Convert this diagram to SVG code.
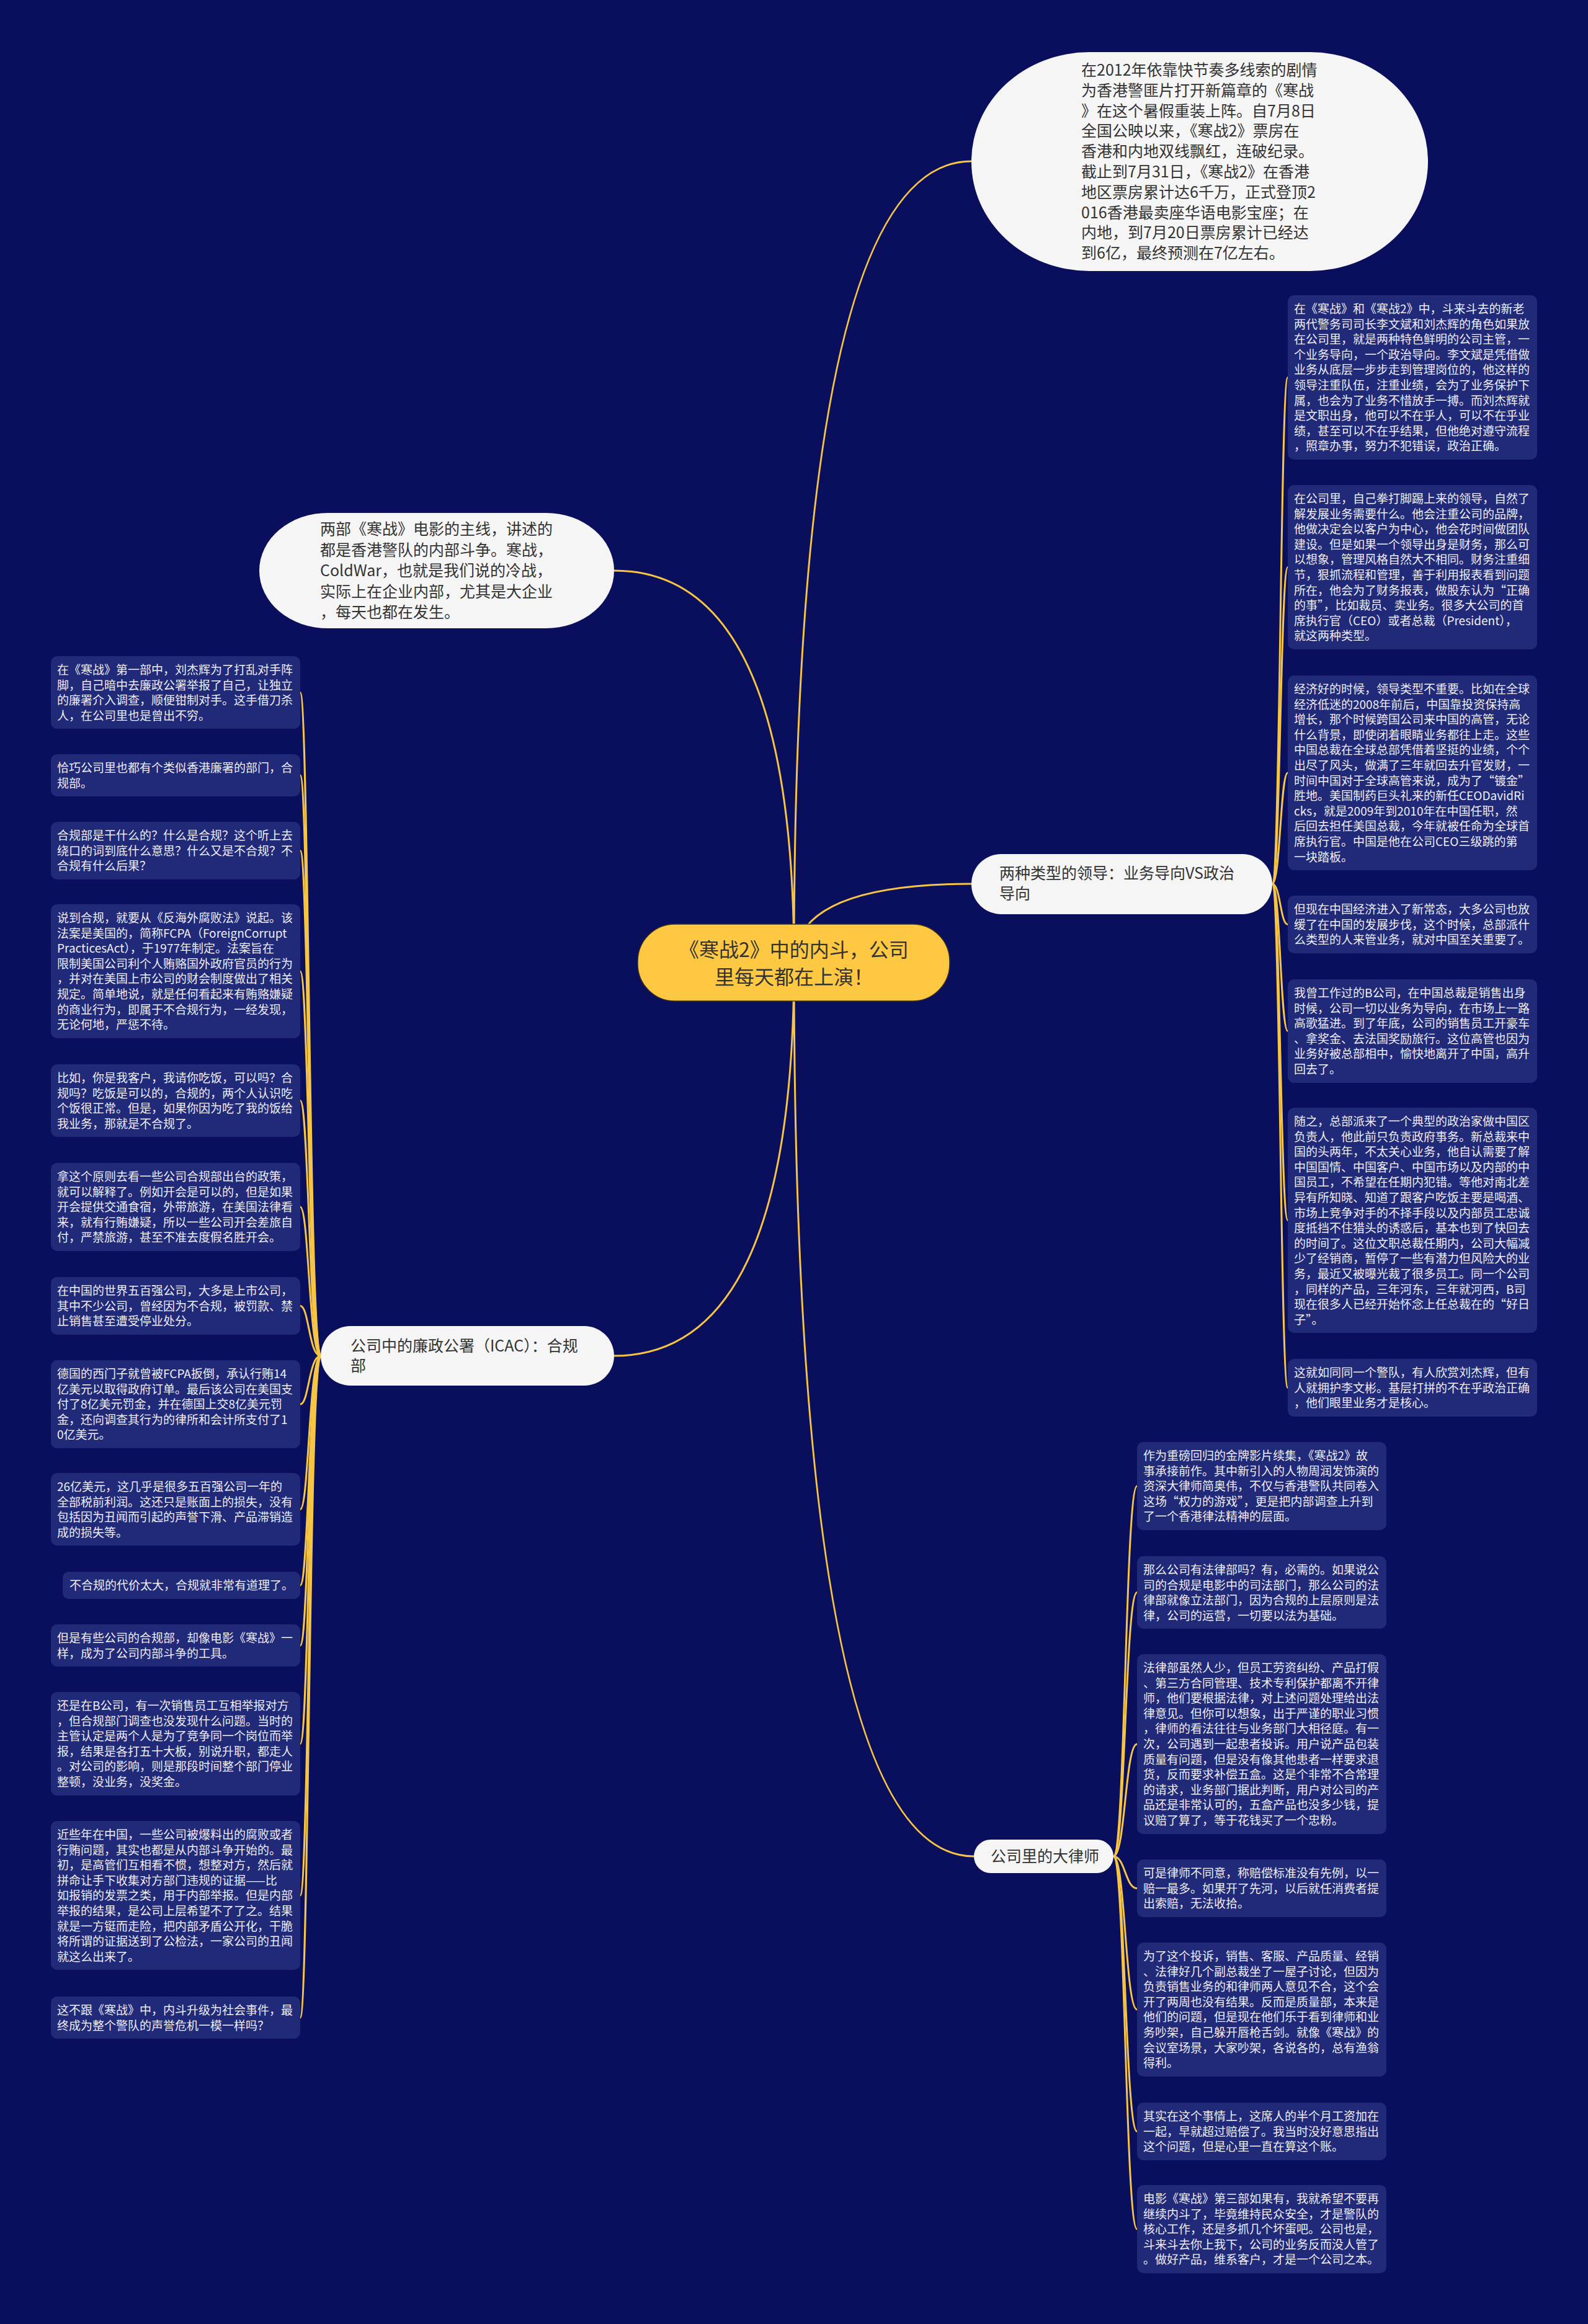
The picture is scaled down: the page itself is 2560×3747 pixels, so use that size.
<svg xmlns="http://www.w3.org/2000/svg" width="2560" height="3747" viewBox="0 0 2560 3747">
<style>
.bg{fill:#090F5C}
.leaf{fill:#212979}
.lt{font-family:"Noto Sans CJK SC","Noto Sans",sans-serif;font-size:19px;fill:#EEEEF4}
.bub{fill:#F5F5F5}
.bt{font-family:"Noto Sans CJK SC","Noto Sans",sans-serif;font-size:25px;fill:#333333}
.ct{font-family:"Noto Sans CJK SC","Noto Sans",sans-serif;font-size:32px;fill:#333333}
.edge{fill:none;stroke:#F6C544;stroke-width:3}
</style>
<rect class="bg" x="0" y="0" width="2560" height="3747"/>
<g id="connectors">
<path class="edge" d="M1280,1552 Q1280,260 1566,260"/>
<path class="edge" d="M1280,1552 Q1280,920 990,920"/>
<path class="edge" d="M1280,1552 Q1280,1425 1566,1425"/>
<path class="edge" d="M1280,1552 Q1280,2186 990,2186"/>
<path class="edge" d="M1280,1552 Q1280,2993 1570,2993"/>
<path class="edge" d="M2051,1425 C2064,1425 2064,608.5 2076,608.5"/>
<path class="edge" d="M2051,1425 C2064,1425 2064,914.5 2076,914.5"/>
<path class="edge" d="M2051,1425 C2064,1425 2064,1246 2076,1246"/>
<path class="edge" d="M2051,1425 C2064,1425 2064,1490.5 2076,1490.5"/>
<path class="edge" d="M2051,1425 C2064,1425 2064,1662.5 2076,1662.5"/>
<path class="edge" d="M2051,1425 C2064,1425 2064,1967.5 2076,1967.5"/>
<path class="edge" d="M2051,1425 C2064,1425 2064,2237.5 2076,2237.5"/>
<path class="edge" d="M517,2186 C498,2186 498,1116.5 484,1116.5"/>
<path class="edge" d="M517,2186 C498,2186 498,1250 484,1250"/>
<path class="edge" d="M517,2186 C498,2186 498,1371.5 484,1371.5"/>
<path class="edge" d="M517,2186 C498,2186 498,1566 484,1566"/>
<path class="edge" d="M517,2186 C498,2186 498,1774.5 484,1774.5"/>
<path class="edge" d="M517,2186 C498,2186 498,1946 484,1946"/>
<path class="edge" d="M517,2186 C498,2186 498,2105.5 484,2105.5"/>
<path class="edge" d="M517,2186 C498,2186 498,2264 484,2264"/>
<path class="edge" d="M517,2186 C498,2186 498,2433.5 484,2433.5"/>
<path class="edge" d="M517,2186 C498,2186 498,2556 484,2556"/>
<path class="edge" d="M517,2186 C498,2186 498,2653 484,2653"/>
<path class="edge" d="M517,2186 C498,2186 498,2811.5 484,2811.5"/>
<path class="edge" d="M517,2186 C498,2186 498,3056 484,3056"/>
<path class="edge" d="M517,2186 C498,2186 498,3253 484,3253"/>
<path class="edge" d="M1795,2993 C1814,2993 1814,2396 1833,2396"/>
<path class="edge" d="M1795,2993 C1814,2993 1814,2567.5 1833,2567.5"/>
<path class="edge" d="M1795,2993 C1814,2993 1814,2812 1833,2812"/>
<path class="edge" d="M1795,2993 C1814,2993 1814,3044.5 1833,3044.5"/>
<path class="edge" d="M1795,2993 C1814,2993 1814,3240 1833,3240"/>
<path class="edge" d="M1795,2993 C1814,2993 1814,3436.5 1833,3436.5"/>
<path class="edge" d="M1795,2993 C1814,2993 1814,3594 1833,3594"/>
</g>
<g id="root">
<rect x="1028" y="1490" width="503" height="124" rx="60" fill="#FFC843" stroke="#3A3320" stroke-width="1.5"/>
<text class="ct" x="1280" y="1543" text-anchor="middle"><tspan x="1280" dy="0">《寒战2》中的内斗，公司</tspan><tspan x="1280" dy="44">里每天都在上演！</tspan></text>
</g>
<g id="intro">
<rect class="bub" x="1566" y="84" width="736" height="353" rx="190" ry="176"/>
<text class="bt" x="1743" y="122"><tspan x="1743" dy="0">在2012年依靠快节奏多线索的剧情</tspan><tspan x="1743" dy="32.8">为香港警匪片打开新篇章的《寒战</tspan><tspan x="1743" dy="32.8">》在这个暑假重装上阵。自7月8日</tspan><tspan x="1743" dy="32.8">全国公映以来，《寒战2》票房在</tspan><tspan x="1743" dy="32.8">香港和内地双线飘红，连破纪录。</tspan><tspan x="1743" dy="32.8">截止到7月31日，《寒战2》在香港</tspan><tspan x="1743" dy="32.8">地区票房累计达6千万，正式登顶2</tspan><tspan x="1743" dy="32.8">016香港最卖座华语电影宝座；在</tspan><tspan x="1743" dy="32.8">内地，到7月20日票房累计已经达</tspan><tspan x="1743" dy="32.8">到6亿，最终预测在7亿左右。</tspan></text>
</g>
<g id="mainline">
<rect class="bub" x="418" y="827" width="572" height="186" rx="110" ry="93"/>
<text class="bt" x="516" y="862"><tspan x="516" dy="0">两部《寒战》电影的主线，讲述的</tspan><tspan x="516" dy="33.5">都是香港警队的内部斗争。寒战，</tspan><tspan x="516" dy="33.5">ColdWar，也就是我们说的冷战，</tspan><tspan x="516" dy="33.5">实际上在企业内部，尤其是大企业</tspan><tspan x="516" dy="33.5">，每天也都在发生。</tspan></text>
</g>
<g id="leaders">
<rect class="bub" x="1566" y="1377" width="485" height="97" rx="48"/>
<text class="bt" x="1611" y="1417"><tspan x="1611" dy="0">两种类型的领导：业务导向VS政治</tspan><tspan x="1611" dy="33">导向</tspan></text>
</g>
<g id="icac">
<rect class="bub" x="517" y="2138" width="473" height="96" rx="48"/>
<text class="bt" x="565" y="2179"><tspan x="565" dy="0">公司中的廉政公署（ICAC）：合规</tspan><tspan x="565" dy="32">部</tspan></text>
</g>
<g id="lawyer">
<rect class="bub" x="1570" y="2966" width="225" height="54" rx="27"/>
<text class="bt" x="1597" y="3002">公司里的大律师</text>
</g>
<g id="r1"><rect class="leaf" x="2076" y="476" width="402" height="265" rx="10"/>
<text class="lt" x="2086" y="505"><tspan x="2086" dy="0">在《寒战》和《寒战2》中，斗来斗去的新老</tspan><tspan x="2086" dy="24.6">两代警务司司长李文斌和刘杰辉的角色如果放</tspan><tspan x="2086" dy="24.6">在公司里，就是两种特色鲜明的公司主管，一</tspan><tspan x="2086" dy="24.6">个业务导向，一个政治导向。李文斌是凭借做</tspan><tspan x="2086" dy="24.6">业务从底层一步步走到管理岗位的，他这样的</tspan><tspan x="2086" dy="24.6">领导注重队伍，注重业绩，会为了业务保护下</tspan><tspan x="2086" dy="24.6">属，也会为了业务不惜放手一搏。而刘杰辉就</tspan><tspan x="2086" dy="24.6">是文职出身，他可以不在乎人，可以不在乎业</tspan><tspan x="2086" dy="24.6">绩，甚至可以不在乎结果，但他绝对遵守流程</tspan><tspan x="2086" dy="24.6">，照章办事，努力不犯错误，政治正确。</tspan></text></g>
<g id="r2"><rect class="leaf" x="2076" y="782" width="402" height="265" rx="10"/>
<text class="lt" x="2086" y="811"><tspan x="2086" dy="0">在公司里，自己拳打脚踢上来的领导，自然了</tspan><tspan x="2086" dy="24.6">解发展业务需要什么。他会注重公司的品牌，</tspan><tspan x="2086" dy="24.6">他做决定会以客户为中心，他会花时间做团队</tspan><tspan x="2086" dy="24.6">建设。但是如果一个领导出身是财务，那么可</tspan><tspan x="2086" dy="24.6">以想象，管理风格自然大不相同。财务注重细</tspan><tspan x="2086" dy="24.6">节，狠抓流程和管理，善于利用报表看到问题</tspan><tspan x="2086" dy="24.6">所在，他会为了财务报表，做股东认为“正确</tspan><tspan x="2086" dy="24.6">的事”，比如裁员、卖业务。很多大公司的首</tspan><tspan x="2086" dy="24.6">席执行官（CEO）或者总裁（President），</tspan><tspan x="2086" dy="24.6">就这两种类型。</tspan></text></g>
<g id="r3"><rect class="leaf" x="2076" y="1089" width="402" height="314" rx="10"/>
<text class="lt" x="2086" y="1118"><tspan x="2086" dy="0">经济好的时候，领导类型不重要。比如在全球</tspan><tspan x="2086" dy="24.6">经济低迷的2008年前后，中国靠投资保持高</tspan><tspan x="2086" dy="24.6">增长，那个时候跨国公司来中国的高管，无论</tspan><tspan x="2086" dy="24.6">什么背景，即使闭着眼睛业务都往上走。这些</tspan><tspan x="2086" dy="24.6">中国总裁在全球总部凭借着坚挺的业绩，个个</tspan><tspan x="2086" dy="24.6">出尽了风头，做满了三年就回去升官发财，一</tspan><tspan x="2086" dy="24.6">时间中国对于全球高管来说，成为了“镀金”</tspan><tspan x="2086" dy="24.6">胜地。美国制药巨头礼来的新任CEODavidRi</tspan><tspan x="2086" dy="24.6">cks，就是2009年到2010年在中国任职，然</tspan><tspan x="2086" dy="24.6">后回去担任美国总裁，今年就被任命为全球首</tspan><tspan x="2086" dy="24.6">席执行官。中国是他在公司CEO三级跳的第</tspan><tspan x="2086" dy="24.6">一块踏板。</tspan></text></g>
<g id="r4"><rect class="leaf" x="2076" y="1444" width="402" height="93" rx="10"/>
<text class="lt" x="2086" y="1473"><tspan x="2086" dy="0">但现在中国经济进入了新常态，大多公司也放</tspan><tspan x="2086" dy="24.6">缓了在中国的发展步伐，这个时候，总部派什</tspan><tspan x="2086" dy="24.6">么类型的人来管业务，就对中国至关重要了。</tspan></text></g>
<g id="r5"><rect class="leaf" x="2076" y="1579" width="402" height="167" rx="10"/>
<text class="lt" x="2086" y="1608"><tspan x="2086" dy="0">我曾工作过的B公司，在中国总裁是销售出身</tspan><tspan x="2086" dy="24.6">时候，公司一切以业务为导向，在市场上一路</tspan><tspan x="2086" dy="24.6">高歌猛进。到了年底，公司的销售员工开豪车</tspan><tspan x="2086" dy="24.6">、拿奖金、去法国奖励旅行。这位高管也因为</tspan><tspan x="2086" dy="24.6">业务好被总部相中，愉快地离开了中国，高升</tspan><tspan x="2086" dy="24.6">回去了。</tspan></text></g>
<g id="r6"><rect class="leaf" x="2076" y="1786" width="402" height="363" rx="10"/>
<text class="lt" x="2086" y="1815"><tspan x="2086" dy="0">随之，总部派来了一个典型的政治家做中国区</tspan><tspan x="2086" dy="24.6">负责人，他此前只负责政府事务。新总裁来中</tspan><tspan x="2086" dy="24.6">国的头两年，不太关心业务，他自认需要了解</tspan><tspan x="2086" dy="24.6">中国国情、中国客户、中国市场以及内部的中</tspan><tspan x="2086" dy="24.6">国员工，不希望在任期内犯错。等他对南北差</tspan><tspan x="2086" dy="24.6">异有所知晓、知道了跟客户吃饭主要是喝酒、</tspan><tspan x="2086" dy="24.6">市场上竞争对手的不择手段以及内部员工忠诚</tspan><tspan x="2086" dy="24.6">度抵挡不住猎头的诱惑后，基本也到了快回去</tspan><tspan x="2086" dy="24.6">的时间了。这位文职总裁任期内，公司大幅减</tspan><tspan x="2086" dy="24.6">少了经销商，暂停了一些有潜力但风险大的业</tspan><tspan x="2086" dy="24.6">务，最近又被曝光裁了很多员工。同一个公司</tspan><tspan x="2086" dy="24.6">，同样的产品，三年河东，三年就河西，B司</tspan><tspan x="2086" dy="24.6">现在很多人已经开始怀念上任总裁在的“好日</tspan><tspan x="2086" dy="24.6">子”。</tspan></text></g>
<g id="r7"><rect class="leaf" x="2076" y="2191" width="402" height="93" rx="10"/>
<text class="lt" x="2086" y="2220"><tspan x="2086" dy="0">这就如同同一个警队，有人欣赏刘杰辉，但有</tspan><tspan x="2086" dy="24.6">人就拥护李文彬。基层打拼的不在乎政治正确</tspan><tspan x="2086" dy="24.6">，他们眼里业务才是核心。</tspan></text></g>
<g id="l1"><rect class="leaf" x="1833" y="2325" width="402" height="142" rx="10"/>
<text class="lt" x="1843" y="2354"><tspan x="1843" dy="0">作为重磅回归的金牌影片续集，《寒战2》故</tspan><tspan x="1843" dy="24.6">事承接前作。其中新引入的人物周润发饰演的</tspan><tspan x="1843" dy="24.6">资深大律师简奥伟，不仅与香港警队共同卷入</tspan><tspan x="1843" dy="24.6">这场“权力的游戏”，更是把内部调查上升到</tspan><tspan x="1843" dy="24.6">了一个香港律法精神的层面。</tspan></text></g>
<g id="l2"><rect class="leaf" x="1833" y="2509" width="402" height="117" rx="10"/>
<text class="lt" x="1843" y="2538"><tspan x="1843" dy="0">那么公司有法律部吗？有，必需的。如果说公</tspan><tspan x="1843" dy="24.6">司的合规是电影中的司法部门，那么公司的法</tspan><tspan x="1843" dy="24.6">律部就像立法部门，因为合规的上层原则是法</tspan><tspan x="1843" dy="24.6">律，公司的运营，一切要以法为基础。</tspan></text></g>
<g id="l3"><rect class="leaf" x="1833" y="2667" width="402" height="290" rx="10"/>
<text class="lt" x="1843" y="2696"><tspan x="1843" dy="0">法律部虽然人少，但员工劳资纠纷、产品打假</tspan><tspan x="1843" dy="24.6">、第三方合同管理、技术专利保护都离不开律</tspan><tspan x="1843" dy="24.6">师，他们要根据法律，对上述问题处理给出法</tspan><tspan x="1843" dy="24.6">律意见。但你可以想象，出于严谨的职业习惯</tspan><tspan x="1843" dy="24.6">，律师的看法往往与业务部门大相径庭。有一</tspan><tspan x="1843" dy="24.6">次，公司遇到一起患者投诉。用户说产品包装</tspan><tspan x="1843" dy="24.6">质量有问题，但是没有像其他患者一样要求退</tspan><tspan x="1843" dy="24.6">货，反而要求补偿五盒。这是个非常不合常理</tspan><tspan x="1843" dy="24.6">的请求，业务部门据此判断，用户对公司的产</tspan><tspan x="1843" dy="24.6">品还是非常认可的，五盒产品也没多少钱，提</tspan><tspan x="1843" dy="24.6">议赔了算了，等于花钱买了一个忠粉。</tspan></text></g>
<g id="l4"><rect class="leaf" x="1833" y="2998" width="402" height="93" rx="10"/>
<text class="lt" x="1843" y="3027"><tspan x="1843" dy="0">可是律师不同意，称赔偿标准没有先例，以一</tspan><tspan x="1843" dy="24.6">赔一最多。如果开了先河，以后就任消费者提</tspan><tspan x="1843" dy="24.6">出索赔，无法收拾。</tspan></text></g>
<g id="l5"><rect class="leaf" x="1833" y="3132" width="402" height="216" rx="10"/>
<text class="lt" x="1843" y="3161"><tspan x="1843" dy="0">为了这个投诉，销售、客服、产品质量、经销</tspan><tspan x="1843" dy="24.6">、法律好几个副总裁坐了一屋子讨论，但因为</tspan><tspan x="1843" dy="24.6">负责销售业务的和律师两人意见不合，这个会</tspan><tspan x="1843" dy="24.6">开了两周也没有结果。反而是质量部，本来是</tspan><tspan x="1843" dy="24.6">他们的问题，但是现在他们乐于看到律师和业</tspan><tspan x="1843" dy="24.6">务吵架，自己躲开唇枪舌剑。就像《寒战》的</tspan><tspan x="1843" dy="24.6">会议室场景，大家吵架，各说各的，总有渔翁</tspan><tspan x="1843" dy="24.6">得利。</tspan></text></g>
<g id="l6"><rect class="leaf" x="1833" y="3390" width="402" height="93" rx="10"/>
<text class="lt" x="1843" y="3419"><tspan x="1843" dy="0">其实在这个事情上，这席人的半个月工资加在</tspan><tspan x="1843" dy="24.6">一起，早就超过赔偿了。我当时没好意思指出</tspan><tspan x="1843" dy="24.6">这个问题，但是心里一直在算这个账。</tspan></text></g>
<g id="l7"><rect class="leaf" x="1833" y="3523" width="402" height="142" rx="10"/>
<text class="lt" x="1843" y="3552"><tspan x="1843" dy="0">电影《寒战》第三部如果有，我就希望不要再</tspan><tspan x="1843" dy="24.6">继续内斗了，毕竟维持民众安全，才是警队的</tspan><tspan x="1843" dy="24.6">核心工作，还是多抓几个坏蛋吧。公司也是，</tspan><tspan x="1843" dy="24.6">斗来斗去你上我下，公司的业务反而没人管了</tspan><tspan x="1843" dy="24.6">。做好产品，维系客户，才是一个公司之本。</tspan></text></g>
<g id="c1"><rect class="leaf" x="82" y="1058" width="402" height="117" rx="10"/>
<text class="lt" x="92" y="1087"><tspan x="92" dy="0">在《寒战》第一部中，刘杰辉为了打乱对手阵</tspan><tspan x="92" dy="24.6">脚，自己暗中去廉政公署举报了自己，让独立</tspan><tspan x="92" dy="24.6">的廉署介入调查，顺便钳制对手。这手借刀杀</tspan><tspan x="92" dy="24.6">人，在公司里也是曾出不穷。</tspan></text></g>
<g id="c2"><rect class="leaf" x="82" y="1216" width="402" height="68" rx="10"/>
<text class="lt" x="92" y="1245"><tspan x="92" dy="0">恰巧公司里也都有个类似香港廉署的部门，合</tspan><tspan x="92" dy="24.6">规部。</tspan></text></g>
<g id="c3"><rect class="leaf" x="82" y="1325" width="402" height="93" rx="10"/>
<text class="lt" x="92" y="1354"><tspan x="92" dy="0">合规部是干什么的？什么是合规？这个听上去</tspan><tspan x="92" dy="24.6">绕口的词到底什么意思？什么又是不合规？不</tspan><tspan x="92" dy="24.6">合规有什么后果？</tspan></text></g>
<g id="c4"><rect class="leaf" x="82" y="1458" width="402" height="216" rx="10"/>
<text class="lt" x="92" y="1487"><tspan x="92" dy="0">说到合规，就要从《反海外腐败法》说起。该</tspan><tspan x="92" dy="24.6">法案是美国的，简称FCPA（ForeignCorrupt</tspan><tspan x="92" dy="24.6">PracticesAct），于1977年制定。法案旨在</tspan><tspan x="92" dy="24.6">限制美国公司利个人贿赂国外政府官员的行为</tspan><tspan x="92" dy="24.6">，并对在美国上市公司的财会制度做出了相关</tspan><tspan x="92" dy="24.6">规定。简单地说，就是任何看起来有贿赂嫌疑</tspan><tspan x="92" dy="24.6">的商业行为，即属于不合规行为，一经发现，</tspan><tspan x="92" dy="24.6">无论何地，严惩不待。</tspan></text></g>
<g id="c5"><rect class="leaf" x="82" y="1716" width="402" height="117" rx="10"/>
<text class="lt" x="92" y="1745"><tspan x="92" dy="0">比如，你是我客户，我请你吃饭，可以吗？合</tspan><tspan x="92" dy="24.6">规吗？吃饭是可以的，合规的，两个人认识吃</tspan><tspan x="92" dy="24.6">个饭很正常。但是，如果你因为吃了我的饭给</tspan><tspan x="92" dy="24.6">我业务，那就是不合规了。</tspan></text></g>
<g id="c6"><rect class="leaf" x="82" y="1875" width="402" height="142" rx="10"/>
<text class="lt" x="92" y="1904"><tspan x="92" dy="0">拿这个原则去看一些公司合规部出台的政策，</tspan><tspan x="92" dy="24.6">就可以解释了。例如开会是可以的，但是如果</tspan><tspan x="92" dy="24.6">开会提供交通食宿，外带旅游，在美国法律看</tspan><tspan x="92" dy="24.6">来，就有行贿嫌疑，所以一些公司开会差旅自</tspan><tspan x="92" dy="24.6">付，严禁旅游，甚至不准去度假名胜开会。</tspan></text></g>
<g id="c7"><rect class="leaf" x="82" y="2059" width="402" height="93" rx="10"/>
<text class="lt" x="92" y="2088"><tspan x="92" dy="0">在中国的世界五百强公司，大多是上市公司，</tspan><tspan x="92" dy="24.6">其中不少公司，曾经因为不合规，被罚款、禁</tspan><tspan x="92" dy="24.6">止销售甚至遭受停业处分。</tspan></text></g>
<g id="c8"><rect class="leaf" x="82" y="2193" width="402" height="142" rx="10"/>
<text class="lt" x="92" y="2222"><tspan x="92" dy="0">德国的西门子就曾被FCPA扳倒，承认行贿14</tspan><tspan x="92" dy="24.6">亿美元以取得政府订单。最后该公司在美国支</tspan><tspan x="92" dy="24.6">付了8亿美元罚金，并在德国上交8亿美元罚</tspan><tspan x="92" dy="24.6">金，还向调查其行为的律所和会计所支付了1</tspan><tspan x="92" dy="24.6">0亿美元。</tspan></text></g>
<g id="c9"><rect class="leaf" x="82" y="2375" width="402" height="117" rx="10"/>
<text class="lt" x="92" y="2404"><tspan x="92" dy="0">26亿美元，这几乎是很多五百强公司一年的</tspan><tspan x="92" dy="24.6">全部税前利润。这还只是账面上的损失，没有</tspan><tspan x="92" dy="24.6">包括因为丑闻而引起的声誉下滑、产品滞销造</tspan><tspan x="92" dy="24.6">成的损失等。</tspan></text></g>
<g id="c10"><rect class="leaf" x="101" y="2534" width="383" height="44" rx="10"/>
<text class="lt" x="112" y="2563">不合规的代价太大，合规就非常有道理了。</text></g>
<g id="c11"><rect class="leaf" x="82" y="2619" width="402" height="68" rx="10"/>
<text class="lt" x="92" y="2648"><tspan x="92" dy="0">但是有些公司的合规部，却像电影《寒战》一</tspan><tspan x="92" dy="24.6">样，成为了公司内部斗争的工具。</tspan></text></g>
<g id="c12"><rect class="leaf" x="82" y="2728" width="402" height="167" rx="10"/>
<text class="lt" x="92" y="2757"><tspan x="92" dy="0">还是在B公司，有一次销售员工互相举报对方</tspan><tspan x="92" dy="24.6">，但合规部门调查也没发现什么问题。当时的</tspan><tspan x="92" dy="24.6">主管认定是两个人是为了竞争同一个岗位而举</tspan><tspan x="92" dy="24.6">报，结果是各打五十大板，别说升职，都走人</tspan><tspan x="92" dy="24.6">。对公司的影响，则是那段时间整个部门停业</tspan><tspan x="92" dy="24.6">整顿，没业务，没奖金。</tspan></text></g>
<g id="c13"><rect class="leaf" x="82" y="2936" width="402" height="240" rx="10"/>
<text class="lt" x="92" y="2965"><tspan x="92" dy="0">近些年在中国，一些公司被爆料出的腐败或者</tspan><tspan x="92" dy="24.6">行贿问题，其实也都是从内部斗争开始的。最</tspan><tspan x="92" dy="24.6">初，是高管们互相看不惯，想整对方，然后就</tspan><tspan x="92" dy="24.6">拼命让手下收集对方部门违规的证据——比</tspan><tspan x="92" dy="24.6">如报销的发票之类，用于内部举报。但是内部</tspan><tspan x="92" dy="24.6">举报的结果，是公司上层希望不了了之。结果</tspan><tspan x="92" dy="24.6">就是一方铤而走险，把内部矛盾公开化，干脆</tspan><tspan x="92" dy="24.6">将所谓的证据送到了公检法，一家公司的丑闻</tspan><tspan x="92" dy="24.6">就这么出来了。</tspan></text></g>
<g id="c14"><rect class="leaf" x="82" y="3219" width="402" height="68" rx="10"/>
<text class="lt" x="92" y="3248"><tspan x="92" dy="0">这不跟《寒战》中，内斗升级为社会事件，最</tspan><tspan x="92" dy="24.6">终成为整个警队的声誉危机一模一样吗？</tspan></text></g>
</svg>
